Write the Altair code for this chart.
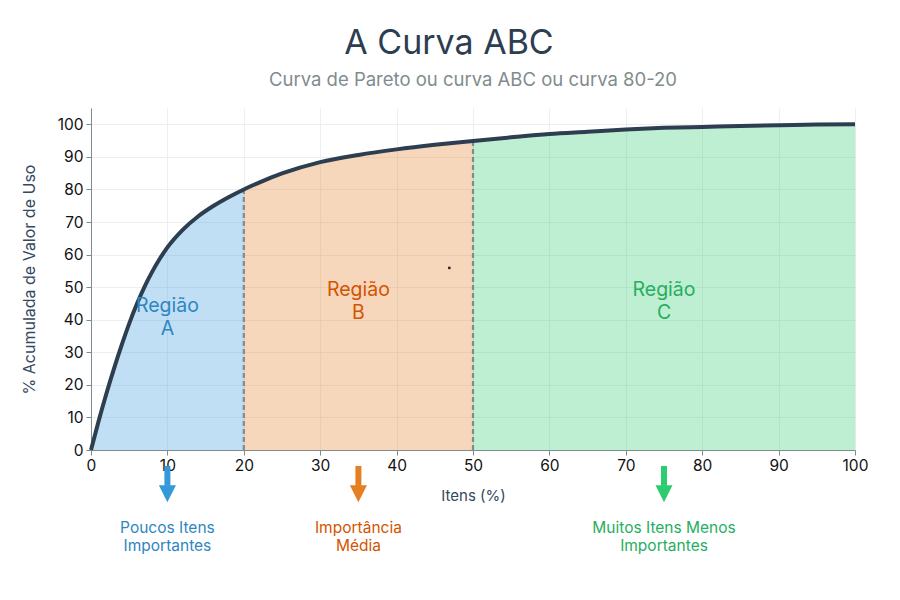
import altair as alt
import pandas as pd

# ---- data ----
curve_x = [0, 1, 2, 3, 4, 5, 6, 7, 8, 9, 10, 12, 14, 16, 18, 20, 22, 25, 30, 35,
           40, 45, 50, 55, 60, 65, 70, 75, 80, 85, 90, 95, 100]
curve_y = [0, 8.9, 17.2, 24.9, 32.1, 38.8, 44.8, 50.1, 54.7, 58.7, 62.2, 67.6, 71.7,
           74.9, 77.6, 80, 82.1, 84.9, 88.4, 90.6, 92.3, 93.7, 94.9, 96.0, 97.0, 97.7,
           98.4, 98.9, 99.2, 99.5, 99.7, 99.9, 100]

region_names = ["A", "B", "C"]
region_start = [0, 20, 50]
region_end = [20, 50, 100]
region_fill = ["#3498db", "#e67e22", "#2ecc71"]
region_text = ["#2e86c1", "#d35400", "#27ae60"]

boundary_x = [20, 50]
boundary_y = [80, 94.9]

label_x = [10, 35, 75]
label_y = [44.2, 49.1, 49.1]
label_text = ["Região\nA", "Região\nB", "Região\nC"]

note_text = ["Poucos Itens\nImportantes", "Importância\nMédia",
             "Muitos Itens Menos\nImportantes"]
arrow_top = -4.9
arrow_neck = -11.0
arrow_head = -13.4
note_y = -24.1

stray_x = [46.9]
stray_y = [55.9]

FONT = "Inter"

# ---- tables ----
curve = pd.DataFrame({"x": curve_x, "y": curve_y})

x_scale = alt.Scale(domain=[0, 100], nice=False, zero=False)
y_scale = alt.Scale(domain=[0, 105], nice=False, zero=False)

x_axis = alt.Axis(values=list(range(0, 101, 10)), title="Itens (%)", grid=True,
                  gridColor="#eceff1", domainColor="#7f8c8d", tickColor="#7f8c8d",
                  tickSize=5, labelFontSize=15.5, labelColor="#111111", labelFont=FONT,
                  titleFont=FONT, titleFontSize=15, titleColor="#34495e",
                  titleFontWeight="normal", titlePadding=15, labelPadding=3,
                  labelFlush=False, labelOverlap=False)
y_axis = alt.Axis(values=list(range(0, 101, 10)), title="% Acumulada de Valor de Uso",
                  grid=True, gridColor="#eceff1", domainColor="#7f8c8d",
                  tickColor="#7f8c8d", tickSize=5, labelFontSize=15.5,
                  labelColor="#111111", labelFont=FONT, titleFont=FONT,
                  titleFontSize=16, titleColor="#34495e", titleFontWeight="normal",
                  titlePadding=20, labelPadding=3, labelFlush=False,
                  labelOverlap=False)


def X(field="x"):
    return alt.X(f"{field}:Q", scale=x_scale, axis=x_axis)


def Y(field="y"):
    return alt.Y(f"{field}:Q", scale=y_scale, axis=y_axis)


layers = []

# region fills
for name, s, e, col in zip(region_names, region_start, region_end, region_fill):
    seg = curve[(curve.x >= s) & (curve.x <= e)]
    layers.append(
        alt.Chart(seg).mark_area(color=col, opacity=0.3, interpolate="monotone",
                                 stroke=col, strokeWidth=1, strokeOpacity=0.35)
        .encode(x=X(), y=Y())
    )

# dashed boundaries
bnd = pd.DataFrame({"x": boundary_x, "y0": [0, 0], "y": boundary_y})
layers.append(
    alt.Chart(bnd).mark_rule(color="#7f8c8d", strokeWidth=2.2, strokeDash=[5, 3])
    .encode(x=X(), y=Y("y0"), y2="y:Q")
)

# curve
layers.append(
    alt.Chart(curve).mark_line(color="#2c3e50", strokeWidth=4, interpolate="monotone")
    .encode(x=X(), y=Y())
)

# stray dot
layers.append(
    alt.Chart(pd.DataFrame({"x": stray_x, "y": stray_y}))
    .mark_square(color="#222222", size=6, opacity=1)
    .encode(x=X(), y=Y())
)

# region labels, arrows and notes
for i in range(3):
    lab = pd.DataFrame({"x": [label_x[i]], "y": [label_y[i]], "t": [label_text[i]]})
    layers.append(
        alt.Chart(lab).mark_text(color=region_text[i], fontSize=19.5, font=FONT,
                                 lineBreak="\n", lineHeight=23, baseline="middle",
                                 align="center")
        .encode(x=X(), y=Y(), text="t:N")
    )
    arr = pd.DataFrame({"x": [label_x[i]], "y": [arrow_top], "y2": [arrow_neck],
                        "h": [arrow_head], "ny": [note_y], "t": [note_text[i]]})
    layers.append(
        alt.Chart(arr).mark_rule(color=region_fill[i], strokeWidth=6)
        .encode(x=X(), y=Y("y"), y2="y2:Q")
    )
    layers.append(
        alt.Chart(arr).mark_point(shape="M-1,-1L1,-1L0,1Z", size=290, filled=True,
                                  color=region_fill[i], opacity=1)
        .encode(x=X(), y=Y("h"))
    )
    layers.append(
        alt.Chart(arr).mark_text(color=region_text[i], fontSize=15.5, font=FONT,
                                 lineBreak="\n", lineHeight=18, baseline="middle",
                                 align="center")
        .encode(x=X(), y=Y("ny"), text="t:N")
    )

# subtitle (centred over the plot area)
sub = pd.DataFrame({"x": [50], "t": ["Curva de Pareto ou curva ABC ou curva 80-20"]})
layers.append(
    alt.Chart(sub).mark_text(color="#7f8c8d", fontSize=18.5, font=FONT,
                             baseline="alphabetic", align="center")
    .encode(x=X(), y=alt.value(-22), text="t:N")
)

chart = (
    alt.layer(*layers)
    .properties(
        width=764, height=342,
        title=alt.TitleParams("A Curva ABC", fontSize=34, font=FONT, color="#2c3e50",
                              fontWeight="normal", anchor="middle", dx=-24, offset=10),
        autosize=alt.AutoSizeParams(type="none"),
        padding={"left": 91, "top": 108, "right": 45, "bottom": 150},
        background="white",
    )
    .configure_view(stroke=None)
)

chart.save("out.html", embed_options={"renderer": "svg", "actions": False})
